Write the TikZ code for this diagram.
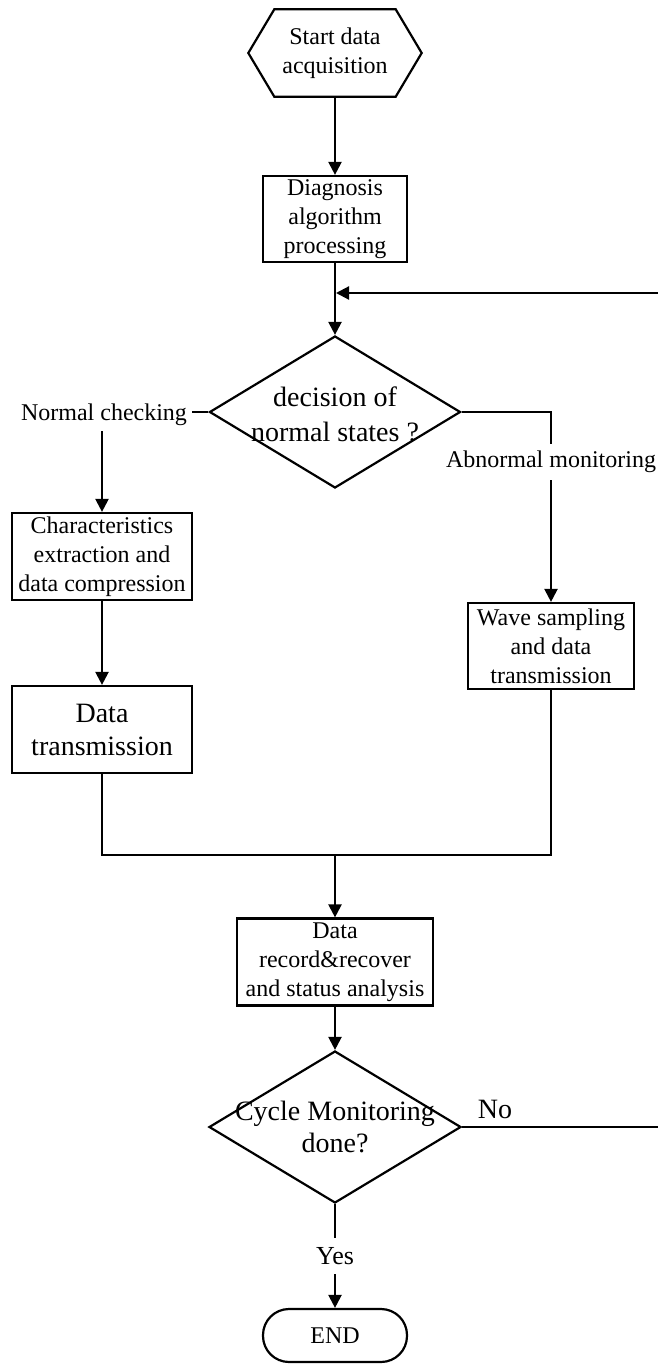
\documentclass[tikz,border=0pt]{standalone}
\usepackage{fontspec}
\setmainfont{Liberation Serif}
\usetikzlibrary{arrows.meta,shapes.geometric}
\begin{document}
\begin{tikzpicture}[x=1pt,y=-1pt,
  every node/.style={font=\fontsize{24}{29}\selectfont, align=center},
  line/.style={line width=2.2pt},
  arr/.style={line width=2.2pt,-{Triangle[length=13pt,width=13pt]}},
  box/.style={draw,line width=2.2pt,rectangle,inner sep=0pt},
  decision/.style={draw,line width=2.2pt,diamond,inner sep=0pt},
  big/.style={font=\fontsize{28}{33}\selectfont},
  bigd/.style={font=\fontsize{28}{35}\selectfont},
]
\useasboundingbox (0,0) rectangle (658,1365);
% nodes
\node[minimum width=173pt,minimum height=87pt,inner sep=0pt] (start) at (335,53) {Start data\\acquisition};
\draw[line] (start.west) -- ([xshift=26pt]start.north west) -- ([xshift=-26pt]start.north east) -- (start.east) -- ([xshift=-26pt]start.south east) -- ([xshift=26pt]start.south west) -- cycle;
\node[box,minimum width=144pt,minimum height=86pt] (diag) at (335,219) {Diagnosis\\algorithm\\processing};
\node[decision,minimum width=251pt,minimum height=152pt] (d1) at (335,412) {};
\node[bigd] (d1t) at (335,414) {decision of\\normal states ?};
\node[inner sep=5pt] (nc) at (104,415) {Normal checking};
\node[inner xsep=0pt,inner ysep=7pt] (abn) at (551,462) {Abnormal monitoring};
\node[box,minimum width=180pt,minimum height=87pt] (char) at (102,556.5) {Characteristics\\extraction and\\data compression};
\node[box,big,minimum width=180pt,minimum height=87pt] (dt) at (102,729.5) {Data\\transmission};
\node[box,minimum width=166pt,minimum height=86pt] (wave) at (551,646) {Wave sampling\\and data\\transmission};
\node[box,minimum width=196pt,minimum height=87pt] (rec) at (335,962) {Data\\record\&recover\\and status analysis};
\node[decision,minimum width=252pt,minimum height=152pt] (d2) at (335,1127) {};
\node[font=\fontsize{28}{32}\selectfont] (d2t) at (335,1127) {Cycle Monitoring\\done?};
\node[font=\fontsize{28}{32}\selectfont,inner sep=0pt] (no) at (495,1109) {No};
\node[font=\fontsize{26}{30}\selectfont,inner xsep=0pt,inner ysep=9.5pt] (yes) at (335,1256) {Yes};
\node[draw,line width=2.2pt,rounded corners=26pt,minimum width=144pt,minimum height=53pt,inner sep=0pt] (end) at (335,1335.5) {END};
% coordinates
\coordinate (fb) at (336,293);
\coordinate (rc) at (660,0);
\coordinate (m) at (335,855);
% connectors
\draw[arr] (start.south) -- (diag.north);
\draw[arr] (diag.south) -- (d1.north);
\draw[line] (d1.west) -- (d1.west -| nc.east);
\draw[arr] (nc.south -| char.north) -- (char.north);
\draw[arr] (char.south) -- (dt.north);
\draw[line] (d1.east) -| (abn.north);
\draw[arr] (abn.south) -- (wave.north);
\draw[line] (dt.south) |- (m) -| (wave.south);
\draw[arr] (m) -- (rec.north);
\draw[arr] (rec.south) -- (d2.north);
\draw[arr] (d2.east) -- (d2.east -| rc) |- (fb);
\draw[line] (d2.south) -- (yes.north);
\draw[arr] (yes.south) -- (end.north);
\end{tikzpicture}
\end{document}
